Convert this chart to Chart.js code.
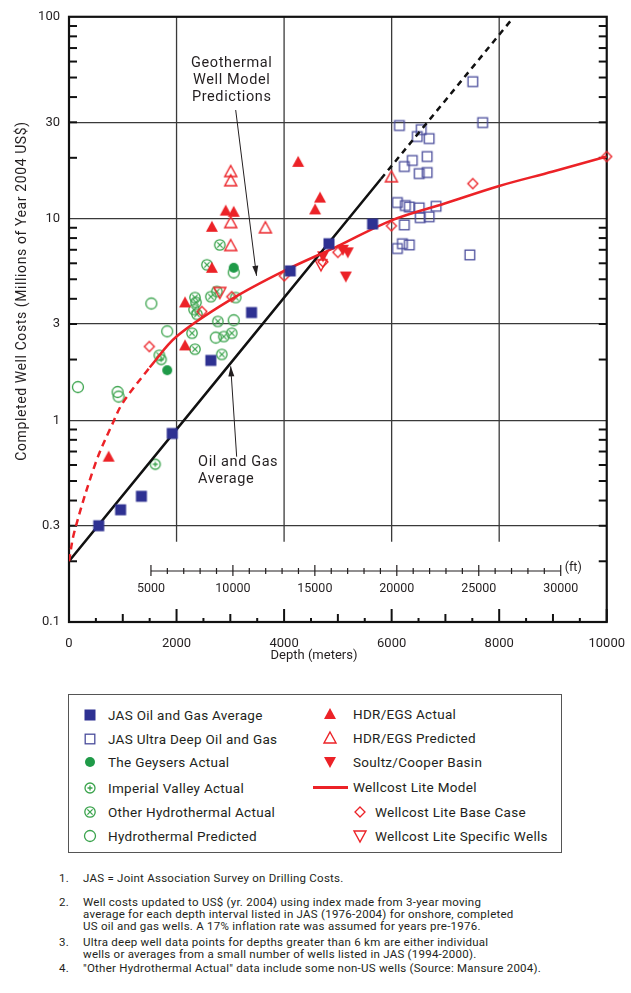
<!DOCTYPE html>
<html>
<head>
<meta charset="utf-8">
<script src="https://cdn.jsdelivr.net/npm/chart.js@4.4.1/dist/chart.umd.min.js"></script>
<style>
  body { margin: 0; background: #fff; font-family: Roboto, "Noto Sans", sans-serif; color: #231f20; }
  #wrap { position: relative; width: 631px; height: 993px; overflow: hidden; }
  #chart { position: absolute; left: 0; top: 0; }
  .legend-box { position: absolute; left: 68px; top: 694px; width: 492px; height: 157px; border: 1.5px solid #555; }
  .li { position: absolute; font-size: 13.5px; letter-spacing: 0.3px; line-height: 16px; white-space: nowrap; }
  .icon { position: absolute; }
  .note { position: absolute; font-size: 11.5px; letter-spacing: 0.25px; line-height: 12px; white-space: nowrap; color: #231f20; }
</style>
</head>
<body>
<div id="wrap">
  <canvas id="chart" width="631" height="670"></canvas>
  <div class="legend-box"></div>
  <div id="legend"></div>
  <div id="notes"></div>
</div>
<script>
// ---- data (depth in metres, cost in millions of 2004 US$) ----
const depthTicks = [0, 2000, 4000, 6000, 8000, 10000];
const costTicks = [0.1, 0.3, 1, 3, 10, 30, 100];
const feetTicks = [5000, 10000, 15000, 20000, 25000, 30000];

const jasAvgDepth = [553, 960, 1347, 1919, 2638, 3395, 4114, 4834, 5646];
const jasAvgCost = [0.30, 0.36, 0.42, 0.86, 1.98, 3.42, 5.5, 7.5, 9.4];

const ultraDepth = [7509, 7693, 6144, 6550, 6477, 6698, 6660, 6384, 6236, 6660, 6513, 6107, 6255, 6329, 6513, 6827, 6532, 6698, 6236, 6200, 6329, 6107, 7454];
const ultraCost = [47.7, 29.9, 28.9, 27.6, 25.5, 24.9, 20.3, 19.4, 18.1, 16.9, 16.7, 12.0, 11.6, 11.4, 11.3, 11.5, 10.1, 10.2, 9.3, 7.5, 7.4, 7.1, 6.6];

const geysersDepth = [1827, 3063];
const geysersCost = [1.77, 5.7];

const imperialDepth = [1605, 1716];
const imperialCost = [0.605, 2.0];

const otherHydroDepth = [2804, 2564, 2343, 2362, 2325, 2380, 2638, 2749, 3100, 2768, 2288, 2878, 3026, 2343, 2841, 1680];
const otherHydroCost = [7.4, 5.9, 4.06, 3.84, 3.54, 3.35, 4.1, 4.35, 4.06, 3.09, 2.7, 2.6, 2.7, 2.25, 2.12, 2.1];

const hydroPredDepth = [166, 904, 922, 1531, 1827, 3063, 2730, 3063];
const hydroPredCost = [1.46, 1.38, 1.31, 3.79, 2.76, 3.13, 2.57, 5.4];

const hdrActualDepth = [2915, 3063, 2657, 2657, 2158, 2158, 738, 4262, 4668, 4576];
const hdrActualCost = [10.95, 10.8, 9.1, 5.7, 3.84, 2.35, 0.66, 19.1, 12.7, 11.1];

const hdrPredDepth = [3007, 3007, 3007, 3653, 3007, 5996];
const hdrPredCost = [17.1, 15.4, 9.55, 9.0, 7.35, 16.1];

const soultzDepth = [4723, 5092, 5184, 5148];
const soultzCost = [6.5, 7.0, 6.8, 5.16];

const baseCaseDepth = [1494, 2472, 3026, 4004, 4723, 5000, 5996, 7509, 10000];
const baseCaseCost = [2.32, 3.46, 4.1, 5.2, 6.1, 6.8, 9.2, 14.9, 20.3];

const specificDepth = [2804, 4686];
const specificCost = [4.3, 5.9];

// Wellcost Lite model curve (dashed below 1500 m)
const modelDashDepth = [0, 100, 500, 800, 1000, 1500];
const modelDashCost = [0.2, 0.28, 0.62, 0.95, 1.22, 1.83];
const modelDepth = [1500, 2000, 3000, 4000, 5000, 6000, 7000, 8000, 9000, 10000];
const modelCost = [1.83, 2.6, 3.95, 5.5, 7.3, 9.8, 11.9, 14.5, 17.1, 20.3];

// Oil and gas average trend (dashed extrapolation)
const oilDepth = [0, 5800];
const oilCost = [0.2, 15.7];
const oilDashDepth = [5800, 8260];
const oilDashCost = [15.7, 99];

const NAVY = '#2e3192';
const NAVY_OPEN = '#4a4d9c';
const RED = '#ec2227';
const GREEN = '#1f9a48';
const GREEN_OPEN = '#3aa34c';

function pts(xs, ys) { return xs.map((x, i) => ({ x: x, y: ys[i] })); }

// marker glyphs shared by chart and legend
function drawMarker(ctx, type, cx, cy) {
  ctx.save();
  ctx.lineWidth = 1.3;
  const tri = (up) => {
    ctx.beginPath();
    if (up) { ctx.moveTo(cx, cy - 6); ctx.lineTo(cx + 6, cy + 5); ctx.lineTo(cx - 6, cy + 5); }
    else { ctx.moveTo(cx - 6, cy - 5); ctx.lineTo(cx + 6, cy - 5); ctx.lineTo(cx, cy + 6); }
    ctx.closePath();
  };
  const circ = (r) => { ctx.beginPath(); ctx.arc(cx, cy, r, 0, Math.PI * 2); };
  switch (type) {
    case 'jasAvg':
      ctx.fillStyle = NAVY; ctx.fillRect(cx - 5.5, cy - 5.5, 11, 11); break;
    case 'ultra':
      ctx.strokeStyle = NAVY_OPEN; ctx.strokeRect(cx - 4.8, cy - 4.8, 9.6, 9.6); break;
    case 'geysers':
      ctx.fillStyle = GREEN; circ(5); ctx.fill(); break;
    case 'imperial':
      ctx.strokeStyle = GREEN_OPEN; circ(5); ctx.stroke();
      ctx.beginPath(); ctx.moveTo(cx - 2.5, cy); ctx.lineTo(cx + 2.5, cy); ctx.moveTo(cx, cy - 2.5); ctx.lineTo(cx, cy + 2.5); ctx.stroke(); break;
    case 'other':
      ctx.strokeStyle = GREEN_OPEN; circ(5.2); ctx.stroke();
      ctx.beginPath(); ctx.moveTo(cx - 2.6, cy - 2.6); ctx.lineTo(cx + 2.6, cy + 2.6); ctx.moveTo(cx + 2.6, cy - 2.6); ctx.lineTo(cx - 2.6, cy + 2.6); ctx.stroke(); break;
    case 'hydroPred':
      ctx.strokeStyle = GREEN_OPEN; circ(5.5); ctx.stroke(); break;
    case 'hdrActual':
      ctx.fillStyle = RED; tri(true); ctx.fill(); break;
    case 'hdrPred':
      ctx.strokeStyle = RED; ctx.lineWidth = 1.4; tri(true); ctx.stroke(); break;
    case 'soultz':
      ctx.fillStyle = RED; tri(false); ctx.fill(); break;
    case 'specific':
      ctx.strokeStyle = RED; ctx.lineWidth = 1.4; tri(false); ctx.stroke(); break;
    case 'baseCase':
      ctx.strokeStyle = RED; ctx.lineWidth = 1.3;
      ctx.beginPath(); ctx.moveTo(cx, cy - 5); ctx.lineTo(cx + 5, cy); ctx.lineTo(cx, cy + 5); ctx.lineTo(cx - 5, cy); ctx.closePath(); ctx.stroke(); break;
  }
  ctx.restore();
}

function makeIcon(type) {
  const c = document.createElement('canvas');
  c.width = 16; c.height = 16;
  drawMarker(c.getContext('2d'), type, 8, 8);
  return c;
}

function markerSet(label, type, xs, ys, extra) {
  return Object.assign({
    label: label,
    data: pts(xs, ys),
    pointStyle: makeIcon(type),
    pointRadius: 6,
    showLine: false
  }, extra || {});
}

function lineSet(label, xs, ys, color, dash) {
  return {
    label: label,
    data: pts(xs, ys),
    showLine: true,
    borderColor: color,
    borderWidth: 2.5,
    borderDash: dash || [],
    pointRadius: 0,
    tension: 0.35,
    fill: false
  };
}

const annotations = [
  { lines: ['Geothermal', 'Well Model', 'Predictions'], x: 3026, y: [59, 48.5, 40], align: 'center',
    arrow: { from: [3100, 34.5], to: [3487, 5.2] } },
  { lines: ['Oil and Gas', 'Average'], x: 2400, y: [0.62, 0.51], align: 'left',
    arrow: { from: [3118, 0.66], to: [3007, 1.85] } }
];

const FT_TO_M = 0.3048;

const decor = {
  id: 'decor',
  beforeDatasetsDraw(chart) {
    const { ctx, chartArea: a, scales: { x, y } } = chart;
    ctx.save();
    // vertical grid lines stop above the feet scale
    ctx.strokeStyle = '#3a3a3a';
    ctx.lineWidth = 1.3;
    const yStop = y.getPixelForValue(0.25);
    depthTicks.slice(1, -1).forEach(v => {
      const px = x.getPixelForValue(v);
      ctx.beginPath(); ctx.moveTo(px, a.top); ctx.lineTo(px, yStop); ctx.stroke();
    });

    // feet scale
    const fy = y.getPixelForValue(0.179);
    ctx.strokeStyle = '#231f20';
    ctx.lineWidth = 1.2;
    const f0 = x.getPixelForValue(feetTicks[0] * FT_TO_M);
    const f1 = x.getPixelForValue(feetTicks[feetTicks.length - 1] * FT_TO_M);
    ctx.beginPath(); ctx.moveTo(f0, fy); ctx.lineTo(f1, fy); ctx.stroke();
    for (let ft = feetTicks[0]; ft <= feetTicks[feetTicks.length - 1]; ft += 1000) {
      const px = x.getPixelForValue(ft * FT_TO_M);
      const h = ft % 5000 === 0 ? 6 : 3;
      ctx.beginPath(); ctx.moveTo(px, fy - h); ctx.lineTo(px, fy + (ft % 5000 === 0 ? 5 : 3)); ctx.stroke();
    }
    ctx.fillStyle = '#231f20';
    ctx.font = '12.5px Roboto, sans-serif';
    ctx.textAlign = 'center';
    ctx.textBaseline = 'middle';
    feetTicks.forEach(ft => ctx.fillText(String(ft), x.getPixelForValue(ft * FT_TO_M), fy + 18));
    ctx.textAlign = 'left';
    ctx.fillText('(ft)', f1 + 4, fy - 3);

    // frame
    ctx.strokeStyle = '#111';
    ctx.lineWidth = 2.2;
    ctx.strokeRect(a.left, a.top, a.right - a.left, a.bottom - a.top);

    // inward minor ticks on the cost axis
    ctx.lineWidth = 2;
    [0.1, 1, 10].forEach(d => {
      for (let m = 2; m <= 9; m++) {
        const py = y.getPixelForValue(d * m);
        ctx.beginPath(); ctx.moveTo(a.left, py); ctx.lineTo(a.left + 8, py); ctx.stroke();
        ctx.beginPath(); ctx.moveTo(a.right - 8, py); ctx.lineTo(a.right, py); ctx.stroke();
      }
    });
    // inward ticks on the depth axis
    for (let v = 0; v <= 10000; v += 500) {
      const px = x.getPixelForValue(v);
      const h = v % 2000 === 0 ? 13 : (v % 1000 === 0 ? 8 : 4);
      ctx.beginPath(); ctx.moveTo(px, a.bottom); ctx.lineTo(px, a.bottom - h); ctx.stroke();
    }
    ctx.restore();
  },
  afterDraw(chart) {
    const { ctx, chartArea: a, scales: { x, y } } = chart;
    ctx.save();
    ctx.fillStyle = '#231f20';
    ctx.strokeStyle = '#231f20';
    ctx.font = '14.5px Roboto, sans-serif';
    ctx.letterSpacing = '0.6px';
    ctx.textBaseline = 'middle';
    annotations.forEach(an => {
      ctx.textAlign = an.align;
      an.lines.forEach((t, i) => ctx.fillText(t, x.getPixelForValue(an.x), y.getPixelForValue(an.y[i])));
      const x0 = x.getPixelForValue(an.arrow.from[0]), y0 = y.getPixelForValue(an.arrow.from[1]);
      const x1 = x.getPixelForValue(an.arrow.to[0]), y1 = y.getPixelForValue(an.arrow.to[1]);
      ctx.lineWidth = 1;
      ctx.beginPath(); ctx.moveTo(x0, y0); ctx.lineTo(x1, y1); ctx.stroke();
      const ang = Math.atan2(y1 - y0, x1 - x0);
      ctx.beginPath();
      ctx.moveTo(x1, y1);
      ctx.lineTo(x1 - 10 * Math.cos(ang) + 3 * Math.sin(ang), y1 - 10 * Math.sin(ang) - 3 * Math.cos(ang));
      ctx.lineTo(x1 - 10 * Math.cos(ang) - 3 * Math.sin(ang), y1 - 10 * Math.sin(ang) + 3 * Math.cos(ang));
      ctx.closePath(); ctx.fill();
    });

    // axis titles
    ctx.letterSpacing = '0px';
    ctx.font = '13px Roboto, sans-serif';
    ctx.textAlign = 'center';
    ctx.fillText('Depth (meters)', 314, 656);
    ctx.font = '14px Roboto, sans-serif';
    ctx.letterSpacing = '0.6px';
    ctx.translate(22, 291);
    ctx.rotate(-Math.PI / 2);
    ctx.fillText('Completed Well Costs (Millions of Year 2004 US$)', 0, 0);
    ctx.restore();
  }
};

new Chart(document.getElementById('chart'), {
  type: 'scatter',
  data: {
    datasets: [
      markerSet('JAS Oil and Gas Average', 'jasAvg', jasAvgDepth, jasAvgCost),
      lineSet('Wellcost Lite Model', modelDepth, modelCost, RED),
      lineSet('Wellcost Lite Model (extrapolated)', modelDashDepth, modelDashCost, RED, [7, 5]),
      lineSet('Oil and Gas Average', oilDepth, oilCost, '#111'),
      lineSet('Oil and Gas Average (extrapolated)', oilDashDepth, oilDashCost, '#111', [6, 5]),
      markerSet('HDR/EGS Actual', 'hdrActual', hdrActualDepth, hdrActualCost),
      markerSet('Soultz/Cooper Basin', 'soultz', soultzDepth, soultzCost),
      markerSet('HDR/EGS Predicted', 'hdrPred', hdrPredDepth, hdrPredCost),
      markerSet('Wellcost Lite Base Case', 'baseCase', baseCaseDepth, baseCaseCost, { clip: false }),
      markerSet('Wellcost Lite Specific Wells', 'specific', specificDepth, specificCost),
      markerSet('JAS Ultra Deep Oil and Gas', 'ultra', ultraDepth, ultraCost),
      markerSet('The Geysers Actual', 'geysers', geysersDepth, geysersCost),
      markerSet('Imperial Valley Actual', 'imperial', imperialDepth, imperialCost),
      markerSet('Other Hydrothermal Actual', 'other', otherHydroDepth, otherHydroCost),
      markerSet('Hydrothermal Predicted', 'hydroPred', hydroPredDepth, hydroPredCost)
    ]
  },
  options: {
    responsive: false,
    animation: false,
    events: [],
    layout: { padding: { top: 16, right: 20, left: 0, bottom: 0 } },
    plugins: { legend: { display: false }, tooltip: { enabled: false } },
    scales: {
      x: {
        type: 'linear',
        min: 0,
        max: 10000,
        afterBuildTicks: s => { s.ticks = depthTicks.map(v => ({ value: v })); },
        afterFit: s => { s.height = 48; },
        grid: { display: false },
        border: { display: false },
        ticks: { padding: 6, color: '#231f20', font: { family: 'Roboto', size: 13 }, callback: v => String(v), maxRotation: 0 }
      },
      y: {
        type: 'logarithmic',
        min: 0.1,
        max: 100,
        afterBuildTicks: s => { s.ticks = costTicks.map(v => ({ value: v })); },
        afterFit: s => { s.width = 69; },
        grid: {
          drawTicks: false,
          lineWidth: 1.3,
          color: c => (c.tick && (c.tick.value === 0.1 || c.tick.value === 100)) ? 'rgba(0,0,0,0)' : '#3a3a3a'
        },
        border: { display: false },
        ticks: { padding: 9, color: '#231f20', font: { family: 'Roboto', size: 13 }, callback: v => String(v) }
      }
    }
  },
  plugins: [decor]
});

// ---- legend ----
const legendItems = [
  { type: 'jasAvg', text: 'JAS Oil and Gas Average', mx: 90, tx: 108, cy: 715 },
  { type: 'ultra', text: 'JAS Ultra Deep Oil and Gas', mx: 90, tx: 108, cy: 739 },
  { type: 'geysers', text: 'The Geysers Actual', mx: 90, tx: 108, cy: 762 },
  { type: 'imperial', text: 'Imperial Valley Actual', mx: 90, tx: 108, cy: 788 },
  { type: 'other', text: 'Other Hydrothermal Actual', mx: 90, tx: 108, cy: 812 },
  { type: 'hydroPred', text: 'Hydrothermal Predicted', mx: 90, tx: 108, cy: 836 },
  { type: 'hdrActual', text: 'HDR/EGS Actual', mx: 330, tx: 353, cy: 714 },
  { type: 'hdrPred', text: 'HDR/EGS Predicted', mx: 330, tx: 353, cy: 738 },
  { type: 'soultz', text: 'Soultz/Cooper Basin', mx: 330, tx: 353, cy: 762 },
  { type: 'line', text: 'Wellcost Lite Model', mx: 330, tx: 353, cy: 787 },
  { type: 'baseCase', text: 'Wellcost Lite Base Case', mx: 360, tx: 375, cy: 812 },
  { type: 'specific', text: 'Wellcost Lite Specific Wells', mx: 360, tx: 375, cy: 836 }
];
const legend = document.getElementById('legend');
legendItems.forEach(it => {
  if (it.type === 'line') {
    const ln = document.createElement('div');
    ln.style.cssText = 'position:absolute;left:313px;width:35px;height:2.5px;background:' + RED + ';top:' + (it.cy - 1) + 'px';
    legend.appendChild(ln);
  } else {
    const ic = makeIcon(it.type);
    ic.className = 'icon';
    ic.style.left = (it.mx - 8) + 'px';
    ic.style.top = (it.cy - 8) + 'px';
    legend.appendChild(ic);
  }
  const t = document.createElement('div');
  t.className = 'li';
  t.textContent = it.text;
  t.style.left = it.tx + 'px';
  t.style.top = (it.cy - 8) + 'px';
  legend.appendChild(t);
});

// ---- footnotes ----
const noteLines = [
  { n: '1.', text: 'JAS = Joint Association Survey on Drilling Costs.', cy: 878 },
  { n: '2.', text: 'Well costs updated to US$ (yr. 2004) using index made from 3-year moving', cy: 902 },
  { n: '', text: 'average for each depth interval listed in JAS (1976-2004) for onshore, completed', cy: 914 },
  { n: '', text: 'US oil and gas wells. A 17% inflation rate was assumed for years pre-1976.', cy: 926 },
  { n: '3.', text: 'Ultra deep well data points for depths greater than 6 km are either individual', cy: 942 },
  { n: '', text: 'wells or averages from a small number of wells listed in JAS (1994-2000).', cy: 954 },
  { n: '4.', text: '"Other Hydrothermal Actual" data include some non-US wells (Source: Mansure 2004).', cy: 968 }
];
const notes = document.getElementById('notes');
noteLines.forEach(l => {
  if (l.n) {
    const n = document.createElement('div');
    n.className = 'note'; n.textContent = l.n;
    n.style.left = '59px'; n.style.top = (l.cy - 6) + 'px';
    notes.appendChild(n);
  }
  const t = document.createElement('div');
  t.className = 'note'; t.textContent = l.text;
  t.style.left = '83px'; t.style.top = (l.cy - 6) + 'px';
  notes.appendChild(t);
});
</script>
</body>
</html>
